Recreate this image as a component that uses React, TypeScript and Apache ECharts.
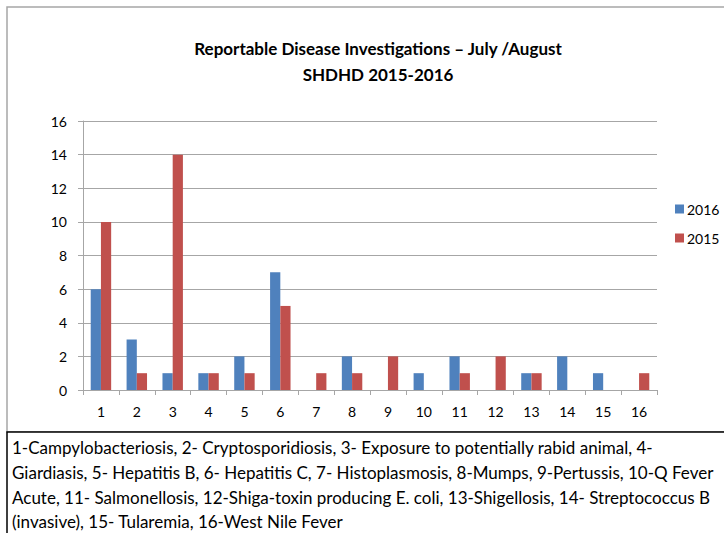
import React, { useEffect, useRef } from "react";
import * as echarts from "echarts";

const categories = ["1", "2", "3", "4", "5", "6", "7", "8", "9", "10", "11", "12", "13", "14", "15", "16"];
const values2016 = [6, 3, 1, 1, 2, 7, 0, 2, 0, 1, 2, 0, 1, 2, 1, 0];
const values2015 = [10, 1, 14, 1, 1, 5, 1, 1, 2, 0, 1, 2, 1, 0, 0, 1];
const seriesNames = ["2016", "2015"];
const titleLines = ["Reportable Disease Investigations – July /August", "SHDHD 2015-2016"];
const noteLines = [
  "1-Campylobacteriosis, 2- Cryptosporidiosis, 3- Exposure to potentially rabid animal, 4-",
  "Giardiasis, 5- Hepatitis B, 6- Hepatitis C, 7- Histoplasmosis, 8-Mumps, 9-Pertussis, 10-Q Fever",
  "Acute, 11- Salmonellosis, 12-Shiga-toxin producing E. coli, 13-Shigellosis, 14- Streptococcus B",
  "(invasive), 15- Tularemia, 16-West Nile Fever",
];

const FONT = "Lato, 'Open Sans', sans-serif";

export default function App() {
  const ref = useRef<HTMLDivElement>(null);
  useEffect(() => {
    if (!ref.current) return;
    const chart = echarts.init(ref.current, null, { renderer: "svg" });
    const noteY = [447, 472, 497, 521];
    chart.setOption({
      animation: false,
      backgroundColor: "#ffffff",
      textStyle: { fontFamily: FONT },
      graphic: [
        {
          type: "rect",
          shape: { x: 7, y: 7, width: 800, height: 425 },
          style: { fill: "#ffffff", stroke: "#a6a6a6", lineWidth: 1.5 },
          z: -10,
        },
        ...titleLines.map((t, i) => ({
          type: "text",
          x: 378,
          y: 48 + i * 26,
          style: {
            text: t,
            fill: "#000",
            font: `bold 17px ${FONT}`,
            textAlign: "center",
            textVerticalAlign: "middle",
          },
        })),
        {
          type: "rect",
          shape: { x: 7, y: 432, width: 800, height: 200 },
          style: { fill: "#ffffff", stroke: "#000000", lineWidth: 1.5 },
        },
        ...noteLines.map((t, i) => ({
          type: "text",
          x: 12,
          y: noteY[i],
          style: {
            text: t,
            fill: "#000",
            font: `17px ${FONT}`,
            textAlign: "left",
            textVerticalAlign: "middle",
          },
        })),
      ],
      legend: {
        orient: "vertical",
        left: 670,
        top: 197,
        itemWidth: 9,
        itemHeight: 9,
        itemGap: 15,
        icon: "rect",
        data: seriesNames,
        textStyle: { fontFamily: FONT, fontSize: 14, color: "#000", padding: [0, 0, 0, -2] },
      },
      grid: { left: 83, right: 67, top: 121, bottom: 143, containLabel: false },
      xAxis: {
        type: "category",
        data: categories,
        axisLine: { lineStyle: { color: "#a6a6a6", width: 1 } },
        axisTick: { show: true, length: 5, lineStyle: { color: "#a6a6a6" } },
        axisLabel: { color: "#000", fontSize: 14, fontFamily: FONT, margin: 14 },
      },
      yAxis: {
        type: "value",
        min: 0,
        max: 16,
        interval: 2,
        axisLine: { show: true, lineStyle: { color: "#a6a6a6", width: 1 } },
        axisTick: { show: true, length: 5, lineStyle: { color: "#a6a6a6" } },
        axisLabel: { color: "#000", fontSize: 14, fontFamily: FONT, margin: 16 },
        splitLine: { lineStyle: { color: "#a6a6a6", width: 1 } },
      },
      series: [
        {
          name: seriesNames[0],
          type: "bar",
          data: values2016,
          itemStyle: { color: "#4f81bd" },
          barGap: "0%",
          barCategoryGap: "43%",
        },
        {
          name: seriesNames[1],
          type: "bar",
          data: values2015,
          itemStyle: { color: "#c0504d" },
          barGap: "0%",
          barCategoryGap: "43%",
        },
      ],
    });
    return () => chart.dispose();
  }, []);
  return (
    <div
      ref={ref}
      style={{ position: "fixed", left: 0, top: 0, width: 724, height: 533 }}
    />
  );
}
